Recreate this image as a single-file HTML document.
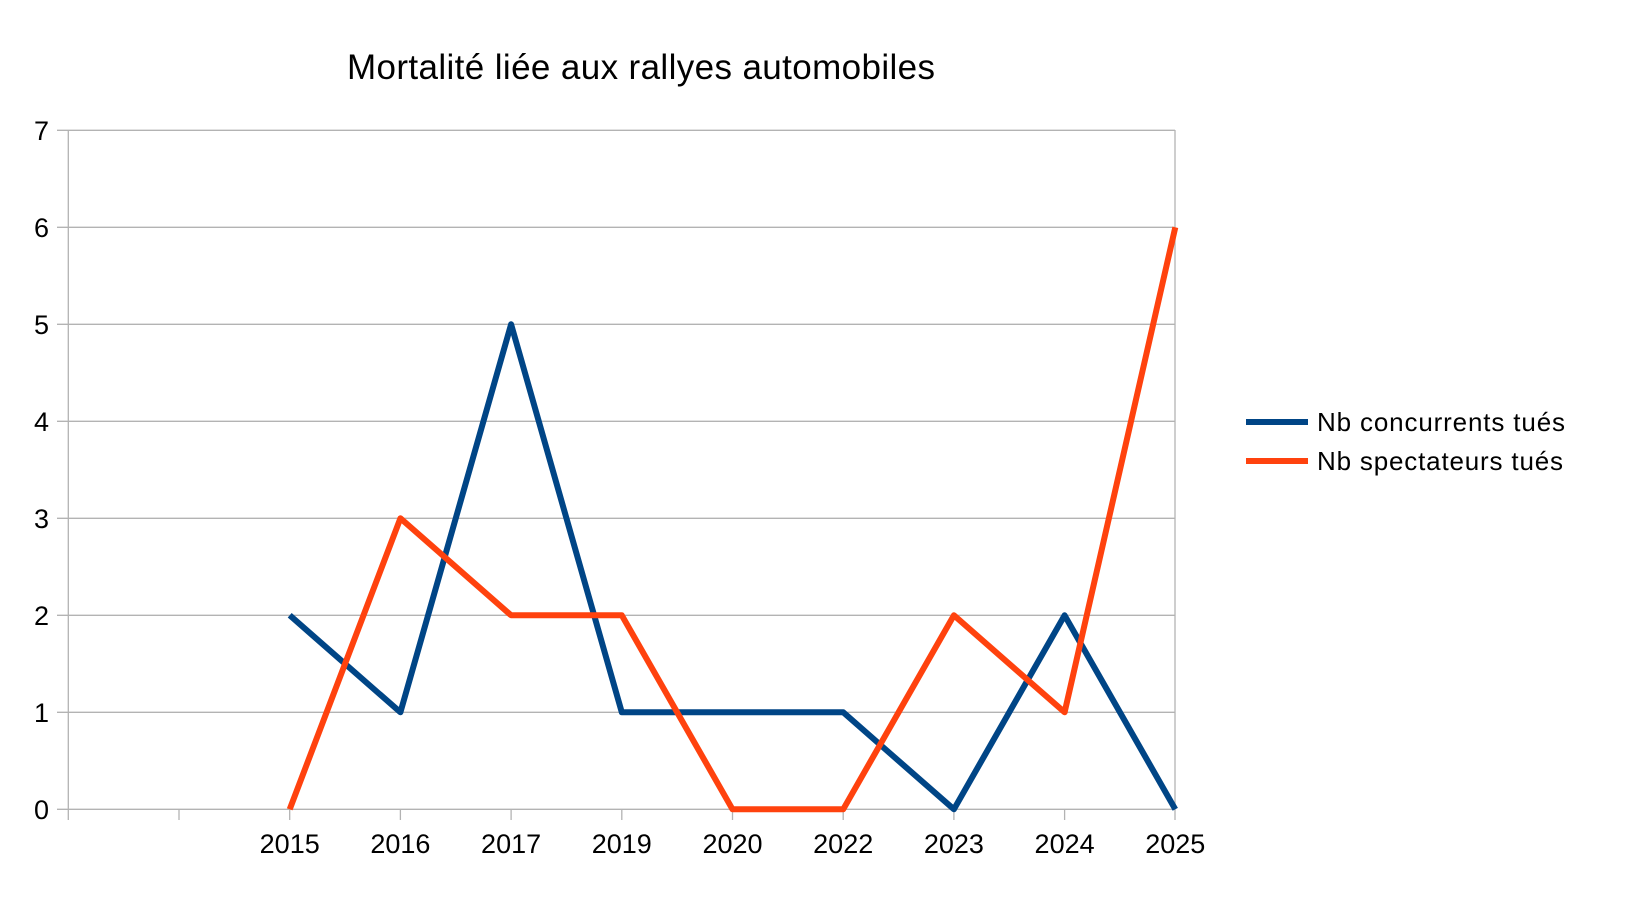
<!DOCTYPE html>
<html><head><meta charset="utf-8"><style>html,body{margin:0;padding:0;background:#fff}svg{display:block}</style></head>
<body>
<svg width="1632" height="902" viewBox="0 0 1632 902" xmlns="http://www.w3.org/2000/svg" font-family="Liberation Sans, sans-serif">
<rect width="1632" height="902" fill="#fff"/>
<text x="347" y="79" font-size="35" textLength="588" fill="#000">Mortalité liée aux rallyes automobiles</text>
<g stroke="#b3b3b3" stroke-width="1.3">
<line x1="57" y1="130.3" x2="1175" y2="130.3"/>
<line x1="57" y1="227.3" x2="1175" y2="227.3"/>
<line x1="57" y1="324.3" x2="1175" y2="324.3"/>
<line x1="57" y1="421.3" x2="1175" y2="421.3"/>
<line x1="57" y1="518.3" x2="1175" y2="518.3"/>
<line x1="57" y1="615.3" x2="1175" y2="615.3"/>
<line x1="57" y1="712.3" x2="1175" y2="712.3"/>
<line x1="57" y1="809.3" x2="1175" y2="809.3"/>
<line x1="68.3" y1="130" x2="68.3" y2="820"/>
<line x1="1175" y1="130" x2="1175" y2="820"/>
<line x1="179" y1="809" x2="179" y2="820"/>
<line x1="289.7" y1="809" x2="289.7" y2="820"/>
<line x1="400.4" y1="809" x2="400.4" y2="820"/>
<line x1="511.1" y1="809" x2="511.1" y2="820"/>
<line x1="621.8" y1="809" x2="621.8" y2="820"/>
<line x1="732.5" y1="809" x2="732.5" y2="820"/>
<line x1="843.2" y1="809" x2="843.2" y2="820"/>
<line x1="953.9" y1="809" x2="953.9" y2="820"/>
<line x1="1064.6" y1="809" x2="1064.6" y2="820"/>
</g>
<g font-size="27" fill="#000" text-anchor="end">
<text x="49" y="140">7</text><text x="49" y="237">6</text><text x="49" y="334">5</text><text x="49" y="431">4</text>
<text x="49" y="528">3</text><text x="49" y="625">2</text><text x="49" y="722">1</text><text x="49" y="819">0</text>
</g>
<g font-size="27" fill="#000" text-anchor="middle">
<text x="289.7" y="853">2015</text><text x="400.4" y="853">2016</text><text x="511.1" y="853">2017</text>
<text x="621.8" y="853">2019</text><text x="732.5" y="853">2020</text><text x="843.2" y="853">2022</text>
<text x="953.9" y="853">2023</text><text x="1064.6" y="853">2024</text><text x="1175.3" y="853">2025</text>
</g>
<polyline fill="none" stroke="#004586" stroke-width="6" stroke-linejoin="round"
points="289.7,615.3 400.4,712.3 511.1,324.3 621.8,712.3 732.5,712.3 843.2,712.3 953.9,809.3 1064.6,615.3 1175.3,809.3"/>
<polyline fill="none" stroke="#ff420e" stroke-width="6" stroke-linejoin="round"
points="289.7,809.3 400.4,518.3 511.1,615.3 621.8,615.3 732.5,809.3 843.2,809.3 953.9,615.3 1064.6,712.3 1175.3,227.3"/>
<line x1="1246" y1="422" x2="1308" y2="422" stroke="#004586" stroke-width="6"/>
<line x1="1246" y1="461" x2="1308" y2="461" stroke="#ff420e" stroke-width="6"/>
<text x="1317" y="431" font-size="26" textLength="248" fill="#000">Nb concurrents tués</text>
<text x="1317" y="470" font-size="26" textLength="246" fill="#000">Nb spectateurs tués</text>
</svg>
</body></html>
